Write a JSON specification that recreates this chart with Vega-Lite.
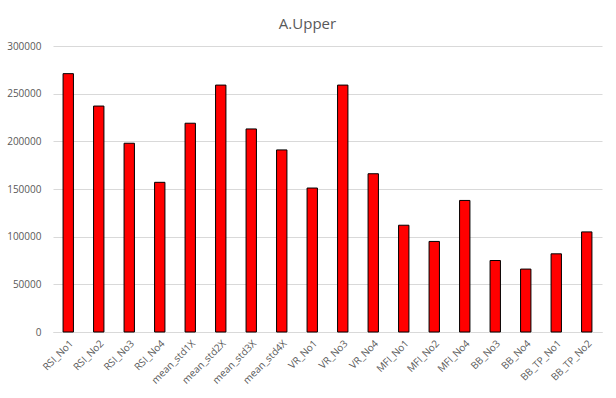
{
  "$schema": "https://vega.github.io/schema/vega-lite/v6.json",
  "autosize": {"type": "none"},
  "width": 549,
  "height": 286,
  "padding": {"left": 53, "top": 46, "right": 14, "bottom": 66},
  "background": "white",
  "title": {"text": "A.Upper", "fontSize": 15, "font": "Open Sans", "fontWeight": "normal", "color": "#595959", "offset": 9, "dx": -20},
  "config": {"view": {"stroke": null}},
  "data": {"values": [
    {"cat": "RSI_No1", "value": 271000},
    {"cat": "RSI_No2", "value": 237000},
    {"cat": "RSI_No3", "value": 198000},
    {"cat": "RSI_No4", "value": 157000},
    {"cat": "mean_std1X", "value": 219000},
    {"cat": "mean_std2X", "value": 259000},
    {"cat": "mean_std3X", "value": 213000},
    {"cat": "mean_std4X", "value": 191000},
    {"cat": "VR_No1", "value": 151000},
    {"cat": "VR_No3", "value": 259000},
    {"cat": "VR_No4", "value": 166000},
    {"cat": "MFI_No1", "value": 112000},
    {"cat": "MFI_No2", "value": 95000},
    {"cat": "MFI_No4", "value": 138000},
    {"cat": "BB_No3", "value": 75000},
    {"cat": "BB_No4", "value": 66000},
    {"cat": "BB_TP_No1", "value": 82000},
    {"cat": "BB_TP_No2", "value": 105000}
  ]},
  "mark": {"type": "bar", "fill": "#ff0000", "stroke": "#000000", "strokeWidth": 1},
  "encoding": {
    "x": {
      "field": "cat", "type": "nominal", "sort": null, "title": null,
      "scale": {"paddingInner": 0.66, "paddingOuter": 0.33},
      "axis": {"labelAngle": -45, "labelPadding": 6, "ticks": false, "domainColor": "#d9d9d9", "labelColor": "#595959", "labelFont": "Open Sans", "labelFontSize": 10}
    },
    "y": {
      "field": "value", "type": "quantitative", "title": null,
      "scale": {"domain": [0, 300000], "nice": false},
      "axis": {"values": [0, 50000, 100000, 150000, 200000, 250000, 300000], "format": "d", "domain": false, "ticks": false, "labelPadding": 12, "gridColor": "#d9d9d9", "labelColor": "#595959", "labelFont": "Open Sans", "labelFontSize": 10}
    }
  }
}
